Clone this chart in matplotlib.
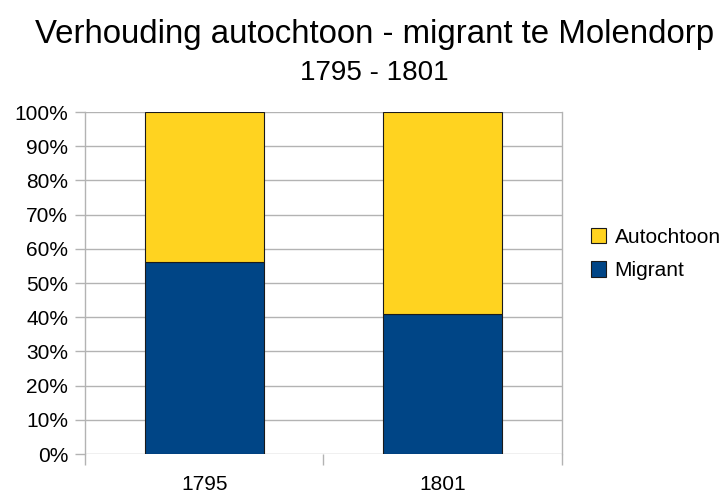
import matplotlib.pyplot as plt
import numpy as np

years = ["1795", "1801"]
migrant = [56, 41]
autochtoon = [44, 59]

plt.rcParams['font.family'] = ['Liberation Sans', 'DejaVu Sans']

fig = plt.figure(figsize=(7.25, 4.97), dpi=100)
ax = fig.add_axes([0.1172, 0.0865, 0.7752 - 0.1172, 0.7746 - 0.0865])

x = np.arange(len(years))
b1 = ax.bar(x, migrant, width=0.5, color='#004586', edgecolor='#1a1a1a', linewidth=0.8,
            label='Migrant', zorder=3)
b2 = ax.bar(x, autochtoon, width=0.5, bottom=migrant, color='#ffd320', edgecolor='#1a1a1a',
            linewidth=0.8, label='Autochtoon', zorder=3)

ax.set_xlim(-0.5, 1.5)
ax.set_ylim(0, 100)
ax.set_yticks(range(0, 101, 10))
ax.set_yticklabels([f"{v}%" for v in range(0, 101, 10)], fontsize=15)
ax.set_xticks(x)
ax.set_xticklabels(years, fontsize=15)
ax.set_xticks([-0.5, 0.5, 1.5], minor=True)
ax.tick_params(axis='x', which='major', length=0, pad=15)
ax.tick_params(axis='x', which='minor', length=8, color='#b3b3b3', width=1)
ax.tick_params(axis='y', length=7, color='#b3b3b3', width=1, pad=5)
ax.yaxis.grid(True, color='#b3b3b3', linewidth=1, zorder=0)

for s in ['top', 'bottom']:
    ax.spines[s].set_visible(False)
for s in ['left', 'right']:
    ax.spines[s].set_color('#b3b3b3')
    ax.spines[s].set_linewidth(1)

ax.legend(handles=[b2, b1], loc='center left', bbox_to_anchor=(1.06, 0.585), frameon=False,
          fontsize=15, handlelength=0.75, handleheight=0.75, handletextpad=0.4,
          labelspacing=0.7, borderpad=0, borderaxespad=0)

fig.text(0.516, 0.93, "Verhouding autochtoon - migrant te Molendorp", ha='center', va='center',
         fontsize=23.8)
fig.text(0.516, 0.853, "1795 - 1801", ha='center', va='center', fontsize=20)

fig.savefig("out.png", dpi=100)
